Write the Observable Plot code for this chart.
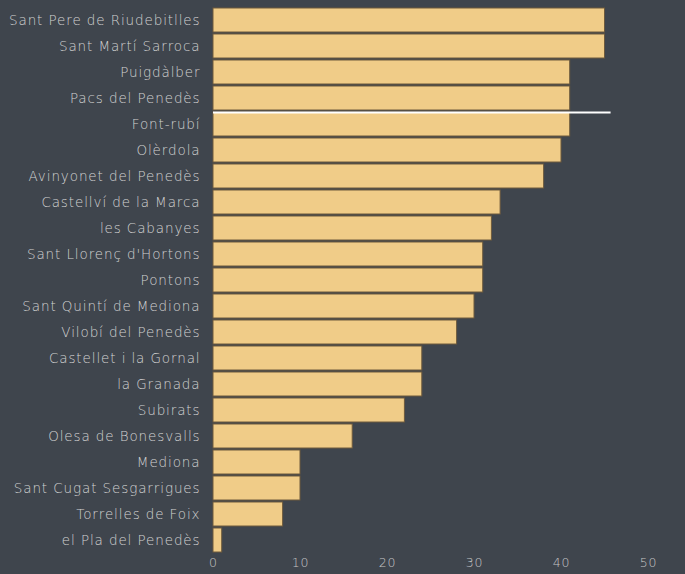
<!DOCTYPE html>
<html>
<head>
<meta charset="utf-8">
<script src="https://cdn.jsdelivr.net/npm/d3@7"></script>
<script src="https://cdn.jsdelivr.net/npm/@observablehq/plot@0.6"></script>
<style>
  html, body { margin: 0; padding: 0; background: #3f454d; }
  #chart { width: 685px; height: 574px; }
  #chart svg text { letter-spacing: 0.9px; }
</style>
</head>
<body>
<div id="chart"></div>
<script>
const municipis = [
  "Sant Pere de Riudebitlles", "Sant Martí Sarroca", "Puigdàlber", "Pacs del Penedès",
  "Font-rubí", "Olèrdola", "Avinyonet del Penedès", "Castellví de la Marca",
  "les Cabanyes", "Sant Llorenç d'Hortons", "Pontons", "Sant Quintí de Mediona",
  "Vilobí del Penedès", "Castellet i la Gornal", "la Granada", "Subirats",
  "Olesa de Bonesvalls", "Mediona", "Sant Cugat Sesgarrigues", "Torrelles de Foix",
  "el Pla del Penedès"
];
const valors = [45, 45, 41, 41, 41, 40, 38, 33, 32, 31, 31, 30, 28, 24, 24, 22, 16, 10, 10, 8, 1];
const xTicks = [0, 10, 20, 30, 40, 50];
const liniaCategoria = ["Font-rubí"];
const liniaValor = 45.7;

const data = municipis.map((m, i) => ({municipi: m, valor: valors[i]}));

const chart = Plot.plot({
  width: 685,
  height: 574,
  marginLeft: 213,
  marginRight: 37,
  marginTop: 7,
  marginBottom: 21,
  style: {background: "#3f454d", color: "#d0d0d0", fontFamily: "'DejaVu Sans', sans-serif", fontWeight: 300},
  x: {domain: [0, 50], ticks: xTicks, axis: null},
  y: {domain: municipis, paddingInner: 0.06, paddingOuter: 0, axis: null},
  marks: [
    Plot.barX(data, {x: "valor", y: "municipi", fill: "#f0cc88", stroke: "#6e5a3c", strokeWidth: 1}),
    Plot.ruleY(liniaCategoria, {y: d => d, x1: 0, x2: liniaValor, stroke: "#ffffff", strokeWidth: 2, dy: -12}),
    Plot.axisY({tickSize: 0, tickPadding: 13, fontSize: 13.5, fill: "#d2d2d2", label: null}),
    Plot.axisX(xTicks, {tickSize: 0, tickPadding: 5, fontSize: 12.5, fill: "#c4c4c4", label: null})
  ]
});
document.getElementById("chart").appendChild(chart);
</script>
</body>
</html>
